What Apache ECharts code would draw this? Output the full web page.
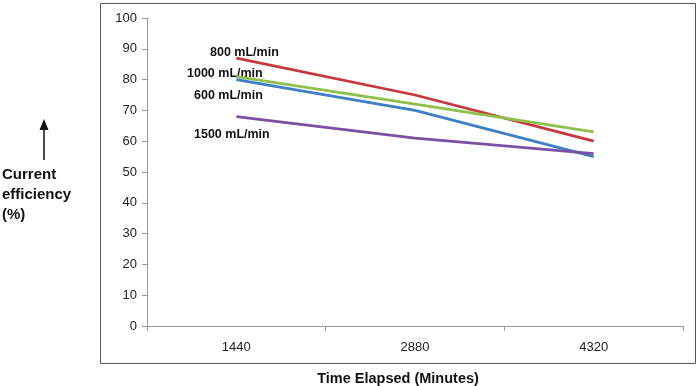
<!DOCTYPE html>
<html><head><meta charset="utf-8">
<script src="https://cdn.jsdelivr.net/npm/echarts@6/dist/echarts.min.js"></script>
<style>html,body{margin:0;padding:0;background:#fff}#c{width:700px;height:386px}</style>
</head><body><div id="c"></div>
<script>
var categories = ['1440', '2880', '4320'];
var s800 = [87, 75, 60];
var s1000 = [81, 72, 63];
var s600 = [80, 70, 55];
var s1500 = [68, 61, 56];
var seriesNames = ['800 mL/min', '1000 mL/min', '600 mL/min', '1500 mL/min'];
var yTicks = [0, 100, 10];

var chart = echarts.init(document.getElementById('c'));
var font = 'Liberation Sans, Arial, sans-serif';
function ln(name, data, color) {
  return {name: name, type: 'line', data: data, symbol: 'none', smooth: false,
    lineStyle: {color: color, width: 2.8}, itemStyle: {color: color}};
}
chart.setOption({
  animation: false,
  grid: {left: 147, right: 17, top: 18, bottom: 60},
  xAxis: {type: 'category', data: categories, boundaryGap: true,
    axisLine: {lineStyle: {color: '#999', width: 1}},
    axisTick: {show: true, length: 5, lineStyle: {color: '#999'}},
    axisLabel: {color: '#222', fontSize: 13, fontFamily: font, margin: 15},
    splitLine: {show: false}},
  yAxis: {type: 'value', min: yTicks[0], max: yTicks[1], interval: yTicks[2],
    axisLine: {show: true, lineStyle: {color: '#999', width: 1}},
    axisTick: {show: true, length: 5, lineStyle: {color: '#999'}},
    axisLabel: {color: '#222', fontSize: 13, fontFamily: font, margin: 10},
    splitLine: {show: false}},
  series: [
    ln(seriesNames[0], s800, '#C8373A'),
    ln(seriesNames[1], s1000, '#8FC04A'),
    ln(seriesNames[2], s600, '#3E80C8'),
    ln(seriesNames[3], s1500, '#7B4FA3')
  ],
  graphic: [
    {type: 'rect', shape: {x: 100.5, y: 3.5, width: 595, height: 360}, style: {fill: null, stroke: '#555', lineWidth: 1}, z: -1},
    {type: 'text', left: 210, top: 46, style: {text: seriesNames[0], font: 'bold 12.5px ' + font, fill: '#111'}},
    {type: 'text', left: 187, top: 67, style: {text: seriesNames[1], font: 'bold 12.5px ' + font, fill: '#111'}},
    {type: 'text', left: 194, top: 89, style: {text: seriesNames[2], font: 'bold 12.5px ' + font, fill: '#111'}},
    {type: 'text', left: 194, top: 128, style: {text: seriesNames[3], font: 'bold 12.5px ' + font, fill: '#111'}},
    {type: 'text', x: 398, y: 379, style: {text: 'Time Elapsed (Minutes)', font: 'bold 14.5px ' + font, fill: '#111', textAlign: 'center', textVerticalAlign: 'middle'}},
    {type: 'text', left: 2, top: 165, style: {text: 'Current\nefficiency\n(%)', font: 'bold 15px ' + font, fill: '#111', lineHeight: 20}},
    {type: 'line', shape: {x1: 44, y1: 160, x2: 44, y2: 128}, style: {stroke: '#111', lineWidth: 1.5}},
    {type: 'polygon', shape: {points: [[44, 119], [39.5, 130], [48.5, 130]]}, style: {fill: '#111'}}
  ]
});
</script></body></html>
